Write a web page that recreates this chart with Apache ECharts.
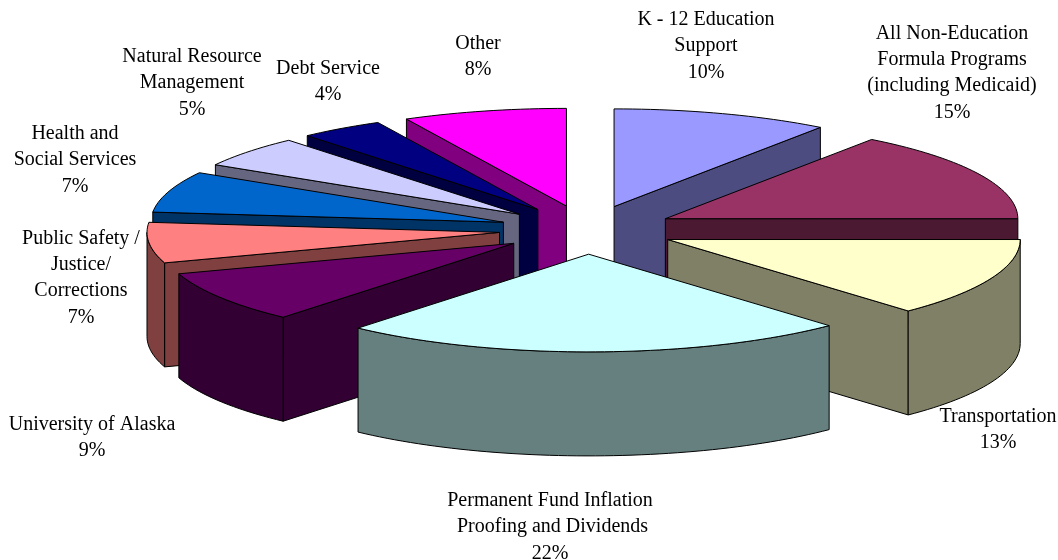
<!DOCTYPE html>
<html>
<head>
<meta charset="utf-8">
<style>html,body{margin:0;padding:0;background:#fff}#c{width:1058px;height:560px}</style>
<script src="https://cdn.jsdelivr.net/npm/echarts@6/dist/echarts.min.js"></script>
</head>
<body>
<div id="c"></div>
<script>
const categories = ['K - 12 Education\nSupport','All Non-Education\nFormula Programs\n(including Medicaid)','Transportation','Permanent Fund Inflation\n Proofing and Dividends','University of Alaska','Public Safety /\nJustice/\nCorrections','Health and\nSocial Services','Natural Resource\nManagement','Debt Service','Other'];
const percentLabels = [10, 15, 13, 22, 9, 7, 7, 5, 4, 8];
const sliceShares = [9.95, 15.05, 13.05, 23.3, 8.6, 6.7, 6.8, 5.2, 3.85, 7.5];
const topColors = ['#9999FF','#993366','#FFFFCC','#CCFFFF','#660066','#FF8080','#0066CC','#CCCCFF','#000080','#FF00FF'];
const wallColors = ['#4C4C80','#4C1933','#808066','#668080','#330033','#804040','#003366','#666680','#000040','#800080'];
const labelCenters = [[706,46],[952,73],[998,430],[550,527],[92,438],[81,278],[75,160],[192,83],[328,82],[478,57]];

const view = {cx:587, cy:229.8, rx:352.5, ry:97.7, depth:104, explode:88};
const total = sliceShares.reduce((a,b)=>a+b,0);
const starts = []; let acc = 0;
sliceShares.forEach(v=>{starts.push(acc); acc+=v;});
const rad = d => d*Math.PI/180;

function renderSlice(params, api){
  const i = api.value(0), v = api.value(1);
  const a0 = starts[i]/total*360, a1 = a0 + v/total*360, mid = (a0+a1)/2;
  const ax = view.cx + view.explode*Math.sin(rad(mid));
  const ay = view.cy - view.explode*Math.cos(rad(mid))*view.ry/view.rx;
  const P = a => [ax+view.rx*Math.sin(rad(a)), ay-view.ry*Math.cos(rad(a))];
  const down = p => [p[0], p[1]+view.depth];
  const arc = (s,e) => { const n=Math.max(2,Math.ceil((e-s)/1.5)), pts=[]; for(let k=0;k<=n;k++) pts.push(P(s+(e-s)*k/n)); return pts; };
  const z2 = Math.round(ay*10);
  const wall = pts => ({type:'polygon', z2, shape:{points:pts}, style:{fill:wallColors[i], stroke:'#000', lineWidth:1}});
  const children = [];
  const A=[ax,ay];
  if(a1<180) children.push(wall([A,P(a1),down(P(a1)),down(A)]));
  if(a0>=180) children.push(wall([A,P(a0),down(P(a0)),down(A)]));
  const s=Math.max(a0,90), e=Math.min(a1,270);
  if(e>s){ const top=arc(s,e); children.push(wall(top.concat(top.map(down).reverse()))); }
  children.push({type:'polygon', z2:z2+1, shape:{points:[A].concat(arc(a0,a1))}, style:{fill:topColors[i], stroke:'#000', lineWidth:1, lineJoin:'round'}});
  children.push({type:'text', z2:100000, x:labelCenters[i][0], y:labelCenters[i][1], style:{
    text:categories[i]+'\n'+percentLabels[i]+'%', fill:'#000', font:'20px "Liberation Serif"', lineHeight:26.3, align:'center', verticalAlign:'middle'}});
  return {type:'group', children};
}

const chart = echarts.init(document.getElementById('c'), null, {renderer:'canvas'});
chart.setOption({
  animation:false,
  backgroundColor:'#fff',
  series:[{type:'custom', coordinateSystem:'none', renderItem:renderSlice,
    data:sliceShares.map((v,i)=>({name:categories[i], value:[i,v]})), silent:true, clip:false}]
});
</script>
</body>
</html>
